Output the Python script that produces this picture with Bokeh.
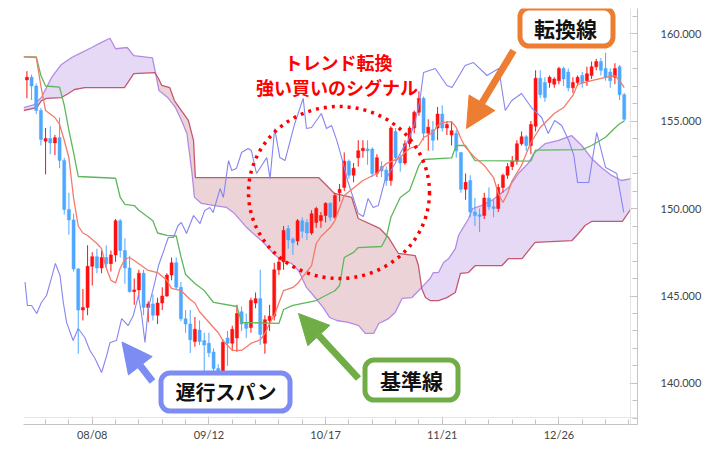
import numpy as np
from bokeh.plotting import figure
from bokeh.models import (Range1d, FixedTicker, NumeralTickFormatter, Span, BoxAnnotation,
                          Label, Arrow, NormalHead)
from bokeh.embed import file_html
from bokeh.resources import INLINE

# ---------------- data ----------------
tick_idx = [14, 39, 64, 89, 114]
tick_labels = ["08/08", "09/12", "10/17", "11/21", "12/26"]
price_ticks = [140, 145, 150, 155, 160]

opens = [157.35,157.5,157.0,155.6,153.85,154.0,153.75,154.05,152.75,149.95,
         149.35,146.55,144.2,144.35,146.7,147.25,146.6,147.2,146.85,147.35,
         149.3,147.6,146.6,145.25,145.35,146.3,144.35,144.55,143.9,144.6,
         145.0,146.2,146.9,145.5,143.7,143.4,142.4,143.05,142.45,142.3,
         141.8,140.85,140.6,142.6,142.3,142.6,144.1,143.5,143.2,144.6,
         144.85,142.3,143.6,143.85,146.5,146.95,148.85,148.25,148.15,149.3,
         149.2,148.6,149.2,149.3,149.6,150.3,149.5,150.9,151.2,152.7,
         151.9,152.9,153.3,153.4,153.4,152.0,152.4,152.2,151.6,154.4,
         152.9,152.6,153.7,154.6,155.5,156.3,154.3,154.5,154.6,155.4,
         154.6,154.2,154.3,153.2,151.1,151.6,149.8,149.65,149.6,150.6,
         150.1,150.0,151.2,151.9,152.4,152.7,153.7,154.1,153.6,154.7,
         157.45,157.2,157.2,157.1,157.3,158.0,157.8,156.9,157.2,157.6,
         157.3,157.6,158.1,158.4,158.0,157.8,157.5,158.1,156.5]
highs = [157.85,157.65,157.15,155.75,154.6,154.7,154.2,155.2,152.9,150.9,
         149.7,146.6,145.4,147.9,147.5,147.7,147.6,147.9,147.6,149.4,
         149.4,148.3,147.3,146.0,146.5,146.5,144.7,145.1,144.9,145.5,
         146.3,147.2,147.2,145.8,144.2,144.2,143.8,143.6,142.9,142.9,
         142.0,141.1,142.5,143.0,143.3,144.5,144.4,144.0,144.9,145.2,
         146.5,143.9,144.5,146.9,147.2,149.0,149.05,148.35,149.4,149.5,
         149.4,149.9,150.1,149.8,150.35,150.35,150.9,151.4,153.2,152.8,
         152.6,153.9,153.9,153.9,153.5,153.1,152.7,152.4,154.7,154.6,
         153.1,153.9,154.7,155.6,156.7,156.4,155.1,155.0,155.8,155.9,
         155.0,155.0,154.5,153.2,152.0,151.9,150.6,150.0,150.9,151.2,
         150.5,151.4,152.0,152.6,153.0,153.9,154.4,154.2,155.0,157.9,
         157.9,157.5,157.6,157.5,158.1,158.1,158.0,157.5,157.6,157.8,
         158.1,158.4,158.55,158.6,158.9,158.0,158.3,158.2,156.6]
lows = [156.3,156.2,155.4,153.6,151.95,153.1,153.05,152.3,149.65,148.5,
        146.4,141.7,143.6,143.9,145.6,146.3,146.3,146.6,146.4,146.95,
        147.2,145.7,145.2,144.5,144.95,143.9,143.5,143.6,143.4,144.2,
        144.95,145.9,145.4,143.55,142.9,141.75,142.1,142.2,140.7,141.5,
        140.3,139.6,140.4,141.0,141.9,141.8,143.0,142.6,142.9,144.3,
        142.2,141.7,143.0,143.6,146.2,146.5,147.7,147.35,147.9,148.3,
        148.2,148.5,148.9,148.9,149.2,149.3,149.4,150.4,151.0,151.7,
        151.5,152.4,152.9,152.5,151.8,151.8,151.8,151.3,151.3,152.7,
        152.1,152.5,153.5,154.3,155.3,153.9,153.3,153.3,153.9,154.4,
        154.2,153.6,152.9,150.9,150.5,149.5,149.0,148.65,149.4,149.9,
        149.5,149.8,150.9,151.7,152.2,152.5,153.6,153.3,153.1,154.4,
        156.3,156.1,156.9,156.9,157.1,157.0,156.7,156.6,157.0,156.9,
        157.0,157.4,157.9,157.6,157.3,156.9,157.1,156.2,155.0]
closes = [157.5,157.0,155.6,153.95,154.0,153.75,154.05,152.75,149.95,149.35,
          146.55,144.2,144.35,146.7,147.25,146.6,147.2,146.85,147.35,149.3,
          147.6,146.6,145.25,145.35,146.3,144.35,144.55,143.9,144.6,145.0,
          146.2,146.9,145.5,143.7,143.4,142.5,143.1,142.4,142.2,141.75,
          140.85,140.6,142.35,142.3,143.1,144.0,143.4,143.15,144.75,144.85,
          142.8,143.65,143.85,146.5,146.95,148.75,148.2,148.05,149.3,148.7,
          148.6,149.7,150.0,149.6,150.3,149.5,150.75,151.1,152.7,151.9,
          152.3,153.3,153.45,153.3,152.0,152.9,152.15,151.6,154.6,152.9,
          152.6,153.7,154.6,155.5,156.3,154.3,154.65,153.9,155.4,154.6,
          154.8,154.45,153.3,151.1,151.5,149.8,149.6,149.55,150.6,150.1,
          150.0,151.2,151.9,152.4,152.7,153.7,154.1,153.6,154.8,157.45,
          156.5,156.35,157.5,157.4,158.0,157.4,156.9,157.2,157.5,157.2,
          157.7,158.1,158.4,157.9,157.5,157.3,158.0,156.5,155.1]

# indicator lines: (candle index, price) vertices
tenkan = [(-0.7,158.66),(2,158.63),(3,157.0),(4,155.6),(6,155.2),(7,154.8),(8,153.9),(9,152.9),
          (10,150.6),(11,149.0),(12,148.6),(13,148.46),(15,148.0),(16,147.71),(17,146.6),(18,145.9),
          (19,145.75),(20,146.6),(21,147.1),(22,147.2),(23,147.03),(26,146.46),(28,146.34),(30,145.9),
          (31,145.43),(33,145.31),(35,144.8),(36,144.6),(37,144.1),(39,143.5),(41,142.9),(42,142.46),
          (44,141.89),(46,141.89),(48,142.29),(50,142.5),(51,142.86),(52,143.43),(53,143.89),(54,144.6),
          (55,145.31),(57,145.49),(58,145.71),(59,146.06),(61,146.74),(62,148.0),(63,148.4),(65,148.91),
          (66,149.31),(68,150.74),(72,151.6),(75,152.0),(77,152.57),(80,152.91),(81,153.2),(82,153.43),
          (84,153.6),(85,154.06),(87,154.34),(88,154.74),(89,154.91),(91,154.97),(92,154.63),(93,154.0),
          (94,153.49),(96,152.91),(98,152.46),(100,151.77),(101,150.86),(102,150.34),(103,150.86),
          (104,151.6),(106,152.46),(107,153.14),(108,153.77),(110,154.63),(113,155.43),(115,155.77),
          (117,156.46),(118,157.09),(121,157.31),(124,157.49),(126,157.6),(127,157.31),(128,156.91)]
kijun = [(-0.7,158.66),(2,158.66),(3,157.6),(4,157.0),(7,156.94),(8,155.9),(9,154.46),(10,153.2),
         (11,151.83),(19,151.73),(20,150.63),(21,150.23),(23,150.17),(24,149.9),(27,149.3),(28,148.6),
         (30,148.46),(32,148.43),(33,147.26),(34,146.23),(36,145.71),(38,145.31),(40,144.63),(45,144.4),
         (46,143.49),(54,143.43),(55,144.23),(57,144.46),(62,144.74),(64,145.03),(66,145.3),(67,145.6),
         (68,147.2),(70,147.49),(71,147.77),(76,147.83),(77,148.34),(78,149.5),(80,150.63),(82,151.03),
         (84,152.46),(85,152.8),(91,152.89),(92,153.6),(94,153.6),(96,152.74),(108,152.71),(109,153.34),
         (119,153.37),(121,153.6),(124,154.07),(126,154.6),(127,154.84),(128,154.99)]
chikou = [(-0.4,145.79),(0.1,144.46),(1.0,144.46),(2.1,144.0),(3.1,144.63),(4.2,145.03),(5.3,146.06),
          (6.1,146.86),(7.1,146.17),(7.8,144.63),(8.5,143.49),(9.9,142.46),(11.0,143.14),(12.4,142.63),
          (13.5,141.89),(14.6,141.43),(16.0,140.63),(17.1,141.6),(17.8,142.34),(19.2,142.46),(20.3,143.71),
          (21.7,143.31),(22.8,143.89),(23.9,145.03),(24.6,143.89),(25.3,142.34),(26.0,144.29),(27.4,145.77),
          (28.2,146.74),(29.2,147.49),(30.3,148.34),(31.4,148.34),(32.4,149.03),(33.1,149.2),(34.2,148.57),
          (35.7,149.6),(37.1,149.14),(38.1,149.89),(39.2,150.06),(39.9,149.77),(41.4,151.14),(42.1,150.63),
          (43.2,152.74),(43.9,152.17),(44.9,152.29),(46.0,153.2),(47.4,153.43),(48.1,153.31),(49.2,152.0),
          (51.4,152.91),(52.1,151.71),(53.1,154.57),(54.2,152.91),(55.3,152.74),(57.4,154.86),(59.2,156.29),
          (59.9,154.57),(61.0,154.63),(63.1,155.43),(64.2,154.57),(65.3,154.74),(66.4,153.89),(67.8,152.57),
          (68.7,151.6),(69.9,150.63),(71.0,149.71),(72.1,149.54),(73.1,150.57),(74.2,150.06),(75.3,150.17),
          (76.7,151.6),(78.9,152.57),(80.3,153.31),(81.7,153.89),(83.1,154.86),(84.2,156.17),(85.0,157.77),
          (87.5,158.0),(90.0,157.03),(91.1,156.91),(93.9,158.17),(95.7,158.34),(98.6,157.6),(101.1,158.0),
          (102.5,155.6),(103.9,156.17),(106.0,156.57),(108.1,155.77),(110.3,155.2),(111.7,154.29),
          (113.1,155.03),(114.6,154.74),(116.1,153.89),(117.2,153.03),(118.0,151.49),(120.4,151.49),
          (122.1,154.34),(124.0,152.34),(126.4,152.0),(127.9,149.77)]
span_a = [(-0.7,155.77),(1.6,155.94),(3.1,156.34),(4.2,156.91),(5.3,157.49),(7.4,158.23),(9.6,158.63),
          (11.7,158.91),(13.9,159.2),(16.0,159.49),(17.8,159.73),(19.0,159.13),(21.5,159.2),(22.9,158.74),
          (26.9,158.61),(27.6,157.7),(28.3,156.74),(30.1,156.36),(31.8,155.79),(33.3,154.93),(34.3,154.27),
          (35.4,151.98),(35.9,150.65),(37.4,150.29),(40.2,150.17),(42.8,150.06),(44.5,149.71),(47.1,148.91),
          (48.5,148.57),(50.7,148.06),(52.8,147.43),(54.6,147.03),(56.7,146.86),(58.2,146.46),(59.9,145.49),
          (61.4,145.03),(63.5,144.34),(64.9,143.77),(66.4,143.6),(68.9,143.49),(71.1,143.31),(72.5,142.86),
          (74.3,142.86),(75.4,143.43),(77.5,143.71),(78.9,144.06),(80.4,144.86),(82.5,144.91),(84.6,145.49),
          (86.4,146.0),(87.1,146.34),(88.2,146.34),(89.3,146.91),(90.4,147.14),(91.8,147.71),(92.5,148.46),
          (93.1,148.74),(94.6,149.4),(95.5,150.0),(97.4,150.17),(99.6,150.46),(103.2,151.2),(105.3,152.0),
          (107.4,152.57),(108.6,153.14),(111.1,153.71),(113.9,153.89),(116.7,154.17),(118.9,153.6),
          (121.0,152.86),(123.1,152.34),(125.3,151.89),(127.4,151.6),(129.5,151.71)]
span_b = [(-0.7,155.6),(2.1,155.77),(3.1,156.17),(4.2,156.29),(7.4,156.34),(8.9,156.57),(10.2,156.8),
          (12.4,156.91),(20.9,156.91),(22.9,157.71),(27.4,157.77),(28.2,157.43),(28.9,157.03),(30.6,156.91),
          (31.6,156.17),(33.1,155.6),(34.6,155.03),(35.7,153.89),(36.1,151.77),(62.5,151.77),(63.8,151.43),
          (65.9,150.86),(69.6,150.63),(71.0,149.43),(75.6,148.86),(77.5,148.34),(79.6,147.43),(83.2,147.31),
          (83.9,146.74),(84.6,145.43),(85.4,144.91),(86.4,144.74),(88.2,144.74),(90.0,144.91),(91.8,145.2),
          (92.9,146.29),(94.6,146.34),(96.1,146.74),(101.8,146.74),(103.2,147.14),(106.1,147.14),
          (108.9,148.06),(116.8,148.17),(118.2,148.57),(119.6,149.03),(121.0,149.26),(127.6,149.26),
          (129.5,150.0)]

# ---------------- figure ----------------
X_START, X_END = -0.73, 130.84
Y_START, Y_END = 137.657, 161.429
FW, FH = 614, 416

p = figure(frame_width=FW, frame_height=FH, output_backend="svg", toolbar_location=None,
           x_range=Range1d(X_START, X_END), y_range=Range1d(Y_START, Y_END),
           y_axis_location="right", min_border_left=23, min_border_right=69,
           min_border_top=8, min_border_bottom=17)
p.outline_line_color = None
p.xgrid.visible = False
p.ygrid.visible = False
p.background_fill_color = "white"
p.border_fill_color = "white"

# helpers converting an on-screen position (px in the picture) to data units, for annotations only
def ax(px):
    return X_START + (px - 23) * (X_END - X_START) / FW

def ay(py):
    return Y_END - (py - 8) * (Y_END - Y_START) / FH

# light inner frame lines
p.add_layout(Span(location=ax(630), dimension="height", line_color="#e4e4e4", line_width=1))
p.add_layout(Span(location=ay(417), dimension="width", line_color="#e4e4e4", line_width=1))

# cloud fill
a_x, a_y = map(np.array, zip(*span_a))
b_x, b_y = map(np.array, zip(*span_b))
grid = np.union1d(a_x, b_x)
ga = np.interp(grid, a_x, a_y)
gb = np.interp(grid, b_x, b_y)
X, A, B = [grid[0]], [ga[0]], [gb[0]]
for i in range(1, len(grid)):
    d0, d1 = ga[i-1] - gb[i-1], ga[i] - gb[i]
    if d0 * d1 < 0:
        t = d0 / (d0 - d1)
        xc = grid[i-1] + t * (grid[i] - grid[i-1])
        yc = ga[i-1] + t * (ga[i] - ga[i-1])
        X.append(xc); A.append(yc); B.append(yc)
    X.append(grid[i]); A.append(ga[i]); B.append(gb[i])
X, A, B = np.array(X), np.array(A), np.array(B)
top = np.maximum(A, B)
p.varea(x=X, y1=B, y2=top, fill_color="#E6D9F6")
p.varea(x=X, y1=A, y2=top, fill_color="#ECD3D7")
p.line(a_x, a_y, line_color="#B38BE3", line_width=1.3)
p.line(b_x, b_y, line_color="#C4586F", line_width=1.3)

# candles
idx = np.arange(len(opens))
o, h, l, c = map(np.array, (opens, highs, lows, closes))
cols = np.where(c >= o, "#FF1010", "#4FA8FF")
p.segment(x0=idx, y0=l, x1=idx, y1=h, line_color=cols, line_width=1)
p.vbar(x=idx, width=0.66, top=np.maximum(o, c), bottom=np.minimum(o, c),
       fill_color=cols, line_color=cols, line_width=0.5)

# lines
for series, col, w in ((chikou, "#8585F2", 1.1), (kijun, "#5DB85D", 1.3), (tenkan, "#F47A6A", 1.3)):
    sx, sy = zip(*series)
    p.line(list(sx), list(sy), line_color=col, line_width=w)

# dotted red circle
p.ellipse(x=[ax(338.5)], y=[ay(192)], width=181, height=172, width_units="screen",
          height_units="screen", fill_color=None, line_color="#FF0000", line_width=3.5,
          line_dash="3 5")

# axes
p.yaxis.ticker = FixedTicker(ticks=price_ticks, minor_ticks=list(range(138, 162)))
p.yaxis.formatter = NumeralTickFormatter(format="0.000")
p.xaxis.ticker = FixedTicker(ticks=tick_idx, minor_ticks=list(range(-1, 131, 5)))
p.xaxis.major_label_overrides = {t: s for t, s in zip(tick_idx, tick_labels)}
for axis, stand in ((p.yaxis, 23), (p.xaxis, 3)):
    axis.axis_line_color = "#c4c4c4"
    axis.major_tick_line_color = "#c4c4c4"
    axis.minor_tick_line_color = "#c4c4c4"
    axis.major_tick_in = 8
    axis.major_tick_out = 0
    axis.minor_tick_in = 5
    axis.minor_tick_out = 0
    axis.major_label_standoff = stand
    axis.major_label_text_font = "Lato"
    axis.major_label_text_font_size = "11px"
    axis.major_label_text_color = "#444444"

# arrows
for (sx, sy, ex, ey, col) in ((513, 50, 466, 128, "#ED7D31"),
                              (152, 381, 121.5, 341.5, "#7C8CF2"),
                              (358, 378, 298, 313, "#70AD47")):
    p.add_layout(Arrow(end=NormalHead(size=30, fill_color=col, line_color=col),
                       x_start=ax(sx), y_start=ay(sy), x_end=ax(ex), y_end=ay(ey),
                       line_color=col, line_width=7))

# boxes with labels
for (l0, r0, t0, b0, col, txt, cx, cy, fs) in (
        (519.5, 612.5, 7.5, 45.5, "#ED7D31", "転換線", 565, 27, "21px"),
        (160.5, 289.5, 372.5, 410.5, "#7C8CF2", "遅行スパン", 225, 391, "20px"),
        (364.5, 457.5, 359.5, 399.5, "#70AD47", "基準線", 411, 379.5, "21px")):
    p.add_layout(BoxAnnotation(left=ax(l0), right=ax(r0), top=ay(t0), bottom=ay(b0),
                               fill_color="white", fill_alpha=1, line_color=col,
                               line_width=5, line_alpha=1, border_radius=9))
    p.add_layout(Label(x=ax(cx), y=ay(cy), text=txt, text_align="center",
                       text_baseline="middle", text_font="Noto Sans CJK JP",
                       text_font_style="bold", text_font_size=fs, text_color="#111111"))

for txt, cx, cy in (("トレンド転換", 338, 61.5), ("強い買いのシグナル", 336.5, 86.5)):
    p.add_layout(Label(x=ax(cx), y=ay(cy), text=txt, text_align="center",
                       text_baseline="middle", text_font="Noto Sans CJK JP",
                       text_font_style="bold", text_font_size="18px", text_color="#FF0000"))

open("out.html", "w").write(file_html(p, INLINE))
